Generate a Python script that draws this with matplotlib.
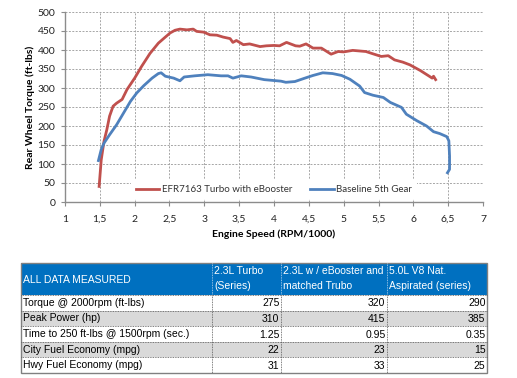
import matplotlib.pyplot as plt
from matplotlib.patches import Rectangle
from matplotlib.ticker import FuncFormatter

# Torque curves (x in RPM/1000, y in ft-lbs)
efr_rpm = [1.49, 1.52, 1.56, 1.60, 1.64, 1.69, 1.74, 1.82, 1.89, 2.00, 2.10, 2.22,
           2.34, 2.44, 2.51, 2.58, 2.65, 2.75, 2.84, 2.89, 2.99, 3.08, 3.18, 3.27,
           3.37, 3.41, 3.46, 3.56, 3.65, 3.80, 3.89, 4.00, 4.08, 4.18, 4.31, 4.37,
           4.46, 4.56, 4.68, 4.82, 4.92, 5.00, 5.13, 5.32, 5.42, 5.54, 5.64, 5.73,
           5.85, 5.95, 6.10, 6.22, 6.27, 6.29, 6.32]
efr_torque = [41, 111, 160, 190, 226, 252, 260, 270, 296, 326, 357, 391,
              418, 434, 445, 452, 455, 453, 455, 449, 447, 440, 439, 434,
              430, 420, 425, 414, 416, 409, 411, 412, 411, 420, 411, 410,
              416, 405, 405, 389, 396, 395, 399, 396, 390, 383, 385, 374,
              368, 361, 346, 332, 326, 331, 322]

base_rpm = [1.48, 1.52, 1.56, 1.64, 1.74, 1.84, 1.94, 2.03, 2.13, 2.25, 2.34, 2.38,
            2.44, 2.56, 2.65, 2.71, 2.86, 3.05, 3.24, 3.34, 3.41, 3.53, 3.67, 3.86,
            4.10, 4.17, 4.30, 4.46, 4.56, 4.70, 4.84, 4.97, 5.09, 5.23, 5.30, 5.42,
            5.57, 5.67, 5.83, 5.90, 6.05, 6.19, 6.29, 6.38, 6.48, 6.51, 6.52, 6.52,
            6.49]
base_torque = [109, 138, 155, 177, 203, 234, 265, 287, 306, 326, 338, 340,
               331, 326, 319, 329, 332, 335, 332, 332, 326, 332, 329, 322,
               318, 315, 317, 327, 333, 340, 338, 333, 323, 305, 288, 281,
               275, 262, 249, 231, 214, 200, 185, 180, 172, 161, 121, 86,
               77]

# Table contents
header = ['ALL DATA MEASURED', '2.3L Turbo\n(Series)',
          '2.3L w / eBooster and\nmatched Trubo', '5.0L V8 Nat.\nAspirated (series)']
row_labels = ['Torque @ 2000rpm (ft-lbs)', 'Peak Power (hp)',
              'Time to 250 ft-lbs @ 1500rpm (sec.)', 'City Fuel Economy (mpg)',
              'Hwy Fuel Economy (mpg)']
turbo_series = ['275', '310', '1.25', '22', '31']
ebooster = ['320', '415', '0.95', '23', '33']
v8_series = ['290', '385', '0.35', '15', '25']

red = '#C0504D'
blue = '#4F81BD'
chart_font = ['Lato', 'DejaVu Sans']
table_font = ['Liberation Sans', 'DejaVu Sans']

fig = plt.figure(figsize=(5.17, 3.78), dpi=100)
ax = fig.add_axes([65 / 517, 1 - 202 / 378, 418 / 517, 190 / 378])

ax.plot(efr_rpm, efr_torque, color=red, lw=2.0, label='EFR7163 Turbo with eBooster')
ax.plot(base_rpm, base_torque, color=blue, lw=2.0, label='Baseline 5th Gear')

ax.set_xlim(1, 7)
ax.set_ylim(0, 500)
ax.set_xticks([1, 1.5, 2, 2.5, 3, 3.5, 4, 4.5, 5, 5.5, 6, 6.5, 7])
ax.set_yticks(range(0, 501, 50))
ax.xaxis.set_major_formatter(FuncFormatter(lambda v, p: ('%g' % v).replace('.', ',')))
ax.grid(True, color='#A6A6A6', ls=(0, (2, 1.5)), lw=0.7)
ax.set_axisbelow(True)
for side in ['top', 'right']:
    ax.spines[side].set_visible(False)
for side in ['left', 'bottom']:
    ax.spines[side].set_color('#8C8C8C')
    ax.spines[side].set_linewidth(1.0)
ax.tick_params(axis='both', length=3, color='#8C8C8C', labelsize=7.5, labelcolor='#222222')
ax.tick_params(axis='x', pad=6)
ax.tick_params(axis='y', pad=4)
for lbl in ax.get_xticklabels() + ax.get_yticklabels():
    lbl.set_family(chart_font)

ax.set_xlabel('Engine Speed (RPM/1000)', fontsize=7.5, fontweight='bold',
              family=chart_font, labelpad=4)
ax.set_ylabel('Rear Wheel Torque (ft-lbs)', fontsize=7.5, fontweight='bold',
              family=chart_font, labelpad=2)

leg = ax.legend(loc='lower center', bbox_to_anchor=(0.5, 0.0), ncol=2, frameon=True,
                fancybox=False, edgecolor='none', framealpha=1, borderaxespad=0.3,
                borderpad=0.5, handlelength=2.4, columnspacing=1.9, handletextpad=0.25,
                prop={'family': chart_font, 'size': 7})
for t in leg.get_texts():
    t.set_color('#333333')
leg.get_frame().set_boxstyle('square', pad=0)

# Table drawn in pixel coordinates
tab = fig.add_axes([0, 0, 1, 1])
tab.set_xlim(0, 517)
tab.set_ylim(378, 0)
tab.axis('off')

col_x = [21, 212, 281, 387, 487]
head_top, head_bot = 263, 295
row_h = (373 - head_bot) / 5

tab.add_patch(Rectangle((col_x[0], head_top), col_x[-1] - col_x[0], head_bot - head_top,
                        facecolor='#0070C0', edgecolor='none'))
for i, lab in enumerate(row_labels):
    y0 = head_bot + i * row_h
    fc = '#D9D9D9' if i % 2 == 1 else 'white'
    tab.add_patch(Rectangle((col_x[0], y0), col_x[-1] - col_x[0], row_h,
                            facecolor=fc, edgecolor='none'))
    tab.text(col_x[0] + 2, y0 + row_h / 2, lab, ha='left', va='center',
             fontsize=7.5, family=table_font, color='black')
    for j, vals in enumerate([turbo_series, ebooster, v8_series]):
        tab.text(col_x[j + 2] - 1.5, y0 + row_h / 2 + 0.5, vals[i], ha='right', va='center',
                 fontsize=7.5, family=table_font, color='black')
    if i > 0:
        tab.plot([col_x[0], col_x[-1]], [y0, y0], color='#555555', lw=0.6, ls=(0, (1, 1)))

# header texts
tab.text(col_x[0] + 2, (head_top + head_bot) / 2 + 1, header[0], ha='left', va='center',
         fontsize=7.5, family=table_font, color='white')
for j in range(1, 4):
    line1, line2 = header[j].split('\n')
    tab.text(col_x[j] + 2, head_top + 8, line1, ha='left', va='center',
             fontsize=7.5, family=table_font, color='white')
    tab.text(col_x[j] + 2, head_top + 23, line2, ha='left', va='center',
             fontsize=7.5, family=table_font, color='white')

# column separators
for x in col_x[1:-1]:
    tab.plot([x, x], [head_top, head_bot], color='#BFD7EE', lw=0.6, ls=(0, (1, 1)))
    tab.plot([x, x], [head_bot, 373], color='#555555', lw=0.6, ls=(0, (1, 1)))
tab.plot([col_x[0], col_x[-1]], [head_bot, head_bot], color='#555555', lw=0.6, ls=(0, (1, 1)))

tab.add_patch(Rectangle((col_x[0], head_top), col_x[-1] - col_x[0], 373 - head_top,
                        facecolor='none', edgecolor='#808080', lw=1.0))

fig.savefig('out.png', dpi=100)
